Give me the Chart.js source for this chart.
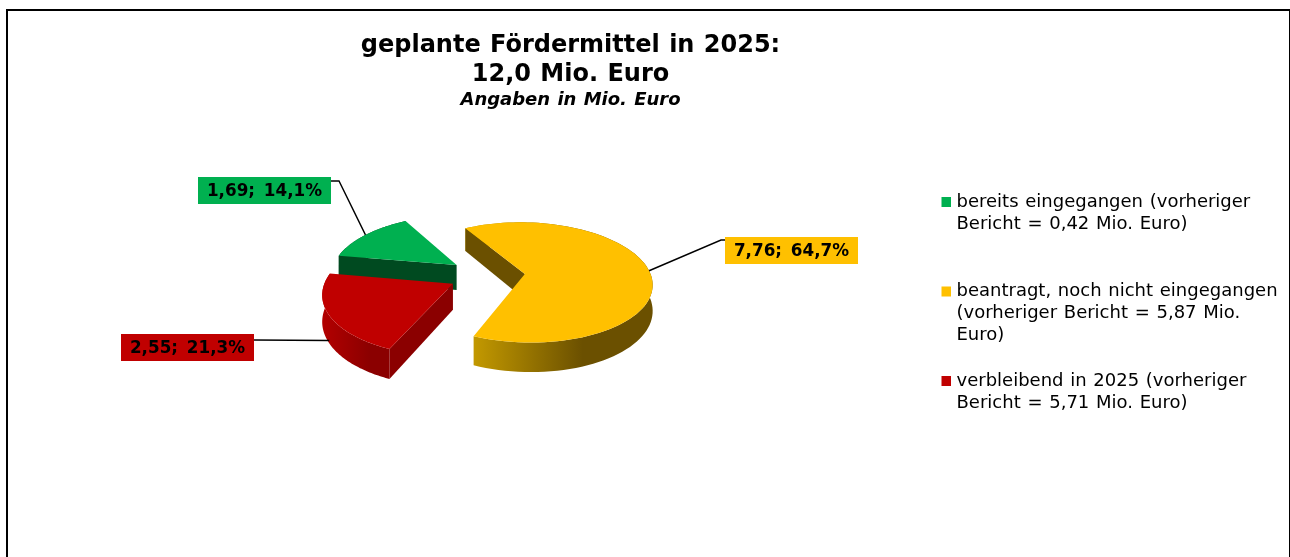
<!DOCTYPE html>
<html>
<head>
<meta charset="utf-8">
<title>geplante Fördermittel in 2025</title>
<script src="https://cdn.jsdelivr.net/npm/chart.js@4/dist/chart.umd.js"></script>
<style>
  html, body { margin: 0; padding: 0; background: #fff; overflow: hidden; }
  #wrap { position: relative; width: 1290px; height: 557px; overflow: hidden; }
  #frame { position: absolute; left: 6px; top: 9px; width: 1281px; height: 600px; border: 2px solid #000; }
  canvas { position: absolute; left: 0; top: 0; }
</style>
</head>
<body>
<div id="wrap">
  <div id="frame"></div>
  <canvas id="c" width="1290" height="557"></canvas>
</div>
<script>
/* ---------- data ---------- */
const titleLines   = ["geplante Fördermittel in 2025:", "12,0 Mio. Euro"];
const subtitleText = "Angaben in Mio. Euro";
const legendLines  = [
  ["bereits eingegangen (vorheriger", "Bericht = 0,42 Mio. Euro)"],
  ["beantragt, noch nicht eingegangen", "(vorheriger Bericht = 5,87 Mio.", "Euro)"],
  ["verbleibend in 2025 (vorheriger", "Bericht = 5,71 Mio. Euro)"]
];
const values      = [1.69, 7.76, 2.55];
const valueLabels = ["1,69", "7,76", "2,55"];
const pctLabels   = ["14,1%", "64,7%", "21,3%"];

/* ---------- styles ---------- */
const topColors  = ["#00B050", "#FFC000", "#C00000"];
const sideColors = ["#004A20", "#6B5000", "#8B0000"];
const wallStart  = ["#004A20", "#C49A00", "#B30000"];
const wallEnd    = ["#004A20", "#6B5000", "#8B0000"];
const wallFrom   = [-1, -0.42, -1.04];   // gradient span, in radii from the slice apex
const wallTo     = [ 1,  0.46, -0.66];

const FONT    = '"DejaVu Sans", Verdana, sans-serif';
const RADIUS  = 126;
const EXPLODE = 38;
const TILT    = 0.47;
const PERSP   = 0.14;
const DEPTH   = 25.5;

/* label boxes and leader elbows */
const boxX   = [198, 725, 121];
const boxY   = [177, 237, 334];
const BOX_W  = 133, BOX_H = 27;
const elbows = [[[339, 181], [331, 181]], [[721, 240], [725, 240]], [[254, 340]]];
const rimDrop = [0, 0, 0.9];

/* ---------- 3D slice element ---------- */
class Arc3d extends Chart.ArcElement {
  static id = "arc3d";
  static defaults = { ...Chart.ArcElement.defaults };

  pt (mx, my, z) {
    const p = 1 / (1 - PERSP * my / this.outerRadius);
    return [this.x + mx * p, this.y + (my * TILT + z) * p];
  }

  /* point on the rim of this slice, after exploding it */
  rim (angle, r, z) {
    const mid = (this.startAngle + this.endAngle) / 2;
    const off = this.options.offset;
    return this.pt(Math.cos(mid) * off + Math.cos(angle) * r,
                   Math.sin(mid) * off + Math.sin(angle) * r, z);
  }

  draw (ctx) {
    const i = this.$context.dataIndex;
    const R = this.outerRadius, a0 = this.startAngle, a1 = this.endAngle;
    const N = 90;
    const poly = (pts, fill) => {
      ctx.beginPath();
      pts.forEach((q, k) => k ? ctx.lineTo(q[0], q[1]) : ctx.moveTo(q[0], q[1]));
      ctx.closePath();
      ctx.fillStyle = fill;
      ctx.fill();
    };

    const top = [], bot = [];
    for (let k = 0; k <= N; k++) {
      const a = a0 + (a1 - a0) * k / N;
      top.push(this.rim(a, R, 0));
      bot.push(this.rim(a, R, DEPTH));
    }
    const apex  = this.rim(a0, 0, 0);
    const apexB = this.rim(a0, 0, DEPTH);

    ctx.save();
    /* outer wall */
    const g = ctx.createLinearGradient(apex[0] + wallFrom[i] * R, 0, apex[0] + wallTo[i] * R, 0);
    g.addColorStop(0, wallStart[i]);
    g.addColorStop(1, wallEnd[i]);
    poly(top.concat(bot.slice().reverse()), g);
    /* cut faces, only the ones turned to the viewer */
    if (Math.sin(a0 - Math.PI / 2) > 0) poly([apex, top[0], bot[0], apexB], sideColors[i]);
    if (Math.sin(a1 + Math.PI / 2) > 0) poly([apex, top[N], bot[N], apexB], sideColors[i]);
    /* top face */
    poly([apex].concat(top), this.options.backgroundColor);
    ctx.restore();
  }
}

class Pie3d extends Chart.PieController {
  static id = "pie3d";
  static defaults = { ...Chart.PieController.defaults, dataElementType: "arc3d" };
}

Chart.register(Arc3d, Pie3d);

/* ---------- placement after layout ---------- */
const placeBoxes = {
  id: "placeBoxes",
  afterLayout (chart) {
    Object.assign(chart.chartArea, { left: 102, right: 872, top: 130, bottom: 420, width: 770, height: 290 });
    chart.boxes.filter(b => b.position === "top").forEach(b => {
      const h = b.height;
      b.left = 0; b.right = 1141;
      b.top = b === chart.titleBlock ? 31 : 89;
      b.bottom = b.top + h;
    });
    chart.legend.left = 941.5;
    chart.legend.top = 191;
  },
  beforeDraw (chart) {
    chart.ctx.wordSpacing = "1px";   // the original font has wider spaces
  }
};

/* ---------- data labels with leader lines ---------- */
const dataLabels = {
  id: "dataLabels",
  afterDatasetsDraw (chart) {
    const ctx = chart.ctx;
    const arcs = chart.getDatasetMeta(0).data;
    ctx.save();
    arcs.forEach((arc, i) => {
      const mid = (arc.startAngle + arc.endAngle) / 2;
      const from = arc.rim(mid, arc.outerRadius, rimDrop[i] * DEPTH);
      ctx.beginPath();
      ctx.moveTo(from[0], from[1]);
      elbows[i].forEach(q => ctx.lineTo(q[0], q[1]));
      ctx.strokeStyle = "#000";
      ctx.lineWidth = 1.4;
      ctx.stroke();

      ctx.fillStyle = topColors[i];
      ctx.fillRect(boxX[i], boxY[i], BOX_W, BOX_H);
      ctx.fillStyle = "#000";
      ctx.font = "bold 16.8px " + FONT;
      ctx.wordSpacing = "3px";
      ctx.textAlign = "center";
      ctx.textBaseline = "middle";
      ctx.fillText(valueLabels[i] + "; " + pctLabels[i], boxX[i] + BOX_W / 2, boxY[i] + BOX_H / 2 + 1);
    });
    ctx.restore();
  }
};

/* ---------- chart ---------- */
new Chart(document.getElementById("c"), {
  type: "pie3d",
  data: {
    labels: legendLines.map(l => l.join(" ")),
    datasets: [{
      data: values,
      backgroundColor: topColors,
      borderWidth: 0,
      offset: EXPLODE
    }]
  },
  options: {
    responsive: false,
    maintainAspectRatio: false,
    animation: false,
    rotation: 279.7,
    radius: RADIUS,
    layout: { padding: 0 },
    plugins: {
      tooltip: { enabled: false },
      title: {
        display: true,
        text: titleLines,
        color: "#000",
        padding: 0,
        font: { family: FONT, size: 24, weight: "bold", lineHeight: 29 / 24 }
      },
      subtitle: {
        display: true,
        text: subtitleText,
        color: "#000",
        padding: 0,
        font: { family: FONT, size: 18, weight: "bold", style: "italic", lineHeight: 1.25 }
      },
      legend: {
        position: "right",
        align: "start",
        labels: {
          color: "#111",
          boxWidth: 4,
          boxHeight: 3,
          padding: 2,
          font: { family: FONT, size: 18, lineHeight: 21.875 / 18 },
          generateLabels: () => legendLines.map((lines, i) => ({
            text: lines.length < 4 ? lines.concat(Array(4 - lines.length).fill("")) : lines,
            fillStyle: topColors[i],
            strokeStyle: topColors[i],
            lineWidth: 7,
            index: i
          }))
        }
      }
    }
  },
  plugins: [placeBoxes, dataLabels]
});
</script>
</body>
</html>
